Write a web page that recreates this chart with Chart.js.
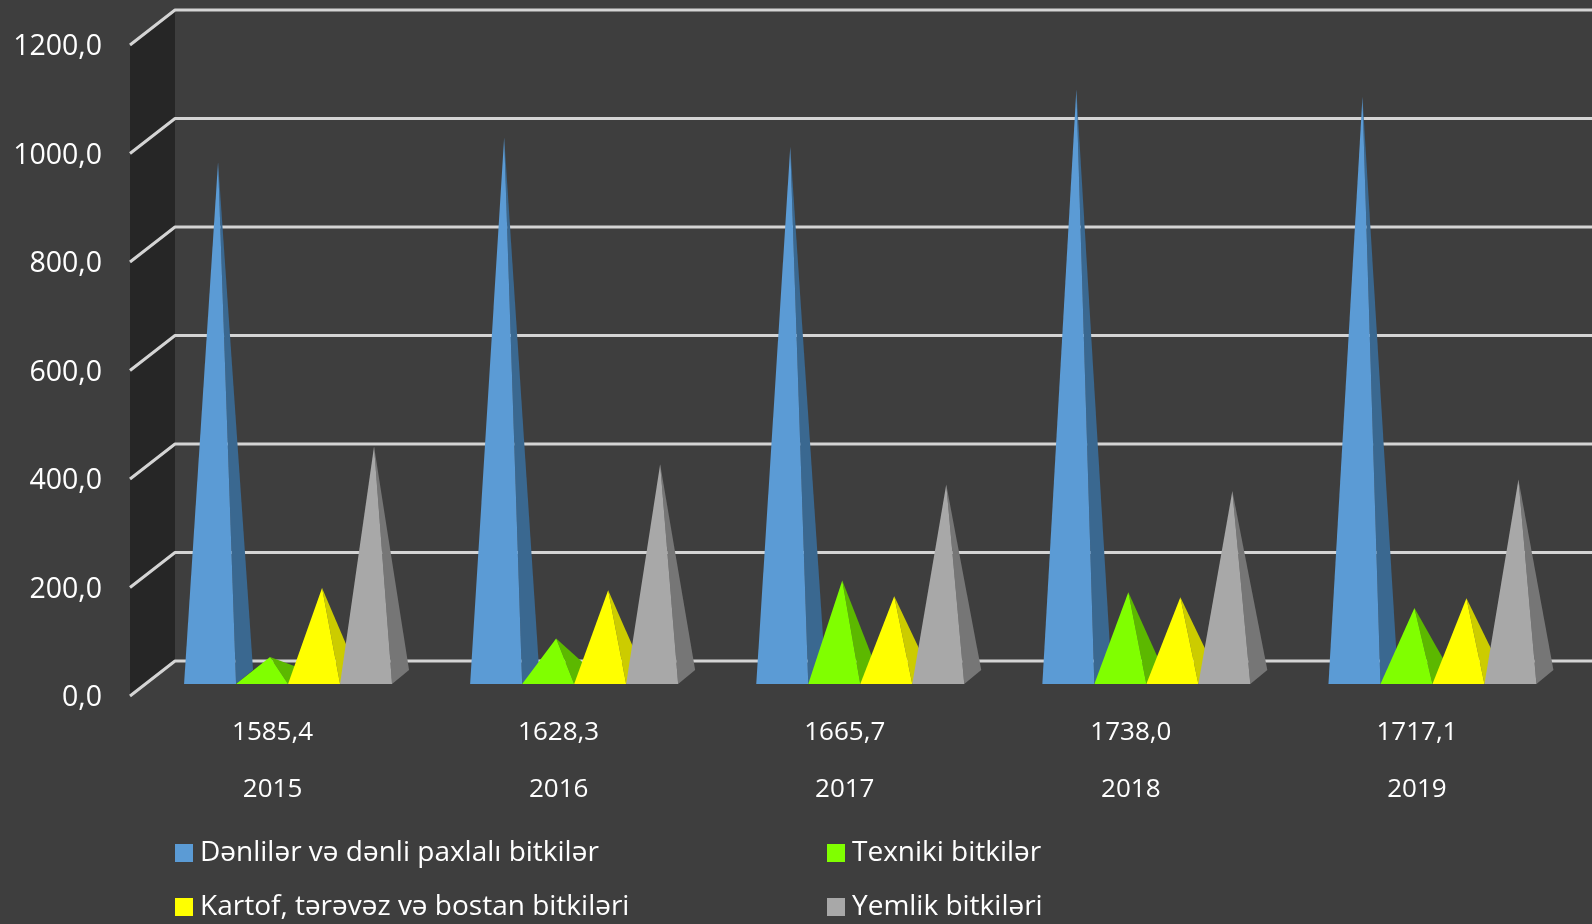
<!DOCTYPE html>
<html>
<head>
<meta charset="utf-8">
<style>html,body{margin:0;padding:0;background:#3e3e3e;overflow:hidden}canvas{display:block}</style>
<script src="https://cdn.jsdelivr.net/npm/chart.js@4/dist/chart.umd.min.js"></script>
</head>
<body>
<canvas id="c" width="1592" height="924"></canvas>
<script>
const years = ["2015","2016","2017","2018","2019"];
const totals = ["1585,4","1628,3","1665,7","1738,0","1717,1"];
const grain = [949,995,977,1083,1069];
const technical = [37,71,178,156,127];
const potato = [164,160,149,147,145];
const fodder = [425,392,355,343,364];
const seriesNames = ["Dənlilər və dənli paxlalı bitkilər","Texniki bitkilər","Kartof, tərəvəz və bostan bitkiləri","Yemlik bitkiləri"];
const frontColors = ["#5B9BD5","#80FF00","#FFFF00","#A8A8A8"];
const sideColors = ["#3A6890","#5CB800","#CCCC00","#767676"];
const FONT = "'Open Sans', sans-serif";

const pyramids = {
  id:"pyramids",
  beforeDatasetsDraw(chart){
    const {ctx,chartArea:a,scales:{y}} = chart;
    ctx.save();
    ctx.fillStyle="#262626";
    ctx.beginPath();
    ctx.moveTo(a.left,y.getPixelForValue(1200));
    ctx.lineTo(a.left+45,y.getPixelForValue(1200)-35);
    ctx.lineTo(a.left+45,y.getPixelForValue(0)-35);
    ctx.lineTo(a.left,y.getPixelForValue(0));
    ctx.closePath();ctx.fill();
    ctx.strokeStyle="#D4D4D4";ctx.lineWidth=3;ctx.lineJoin="round";
    y.ticks.forEach(t=>{
      const py=y.getPixelForValue(t.value);
      ctx.beginPath();ctx.moveTo(a.left,py);ctx.lineTo(a.left+45,py-35);ctx.lineTo(chart.width,py-35);ctx.stroke();
    });
    chart.data.datasets.forEach((ds,i)=>{
      chart.getDatasetMeta(i).data.forEach(bar=>{
        const p=bar.getProps(["x","y","base","width"],true);
        const l=p.x-p.width/2+15, r=p.x+p.width/2+15, fy=p.base-12;
        const ax=p.x+23, ay=p.y-19;
        ctx.fillStyle=sideColors[i];
        ctx.beginPath();ctx.moveTo(r,fy);ctx.lineTo(r+17,fy-14);ctx.lineTo(ax,ay);ctx.closePath();ctx.fill();
        ctx.fillStyle=frontColors[i];
        ctx.beginPath();ctx.moveTo(l,fy);ctx.lineTo(r,fy);ctx.lineTo(ax,ay);ctx.closePath();ctx.fill();
      });
    });
    ctx.restore();
  },
  beforeDatasetDraw(){return false;},
  afterDraw(chart){
    const ctx=chart.ctx;
    const spots=[[175,853],[827,853],[175,907],[827,907]];
    ctx.save();
    ctx.font="28px "+FONT;ctx.textBaseline="middle";ctx.textAlign="left";
    chart.data.datasets.forEach((ds,s)=>{
      const [x,yy]=spots[s];
      ctx.fillStyle=frontColors[s];ctx.fillRect(x,yy-9,18,18);
      ctx.fillStyle="#FFFFFF";ctx.fillText(ds.label,x+25,yy);
    });
    ctx.restore();
  }
};

new Chart(document.getElementById("c"),{
  type:"bar",
  data:{
    labels:years.map((yr,i)=>[totals[i],yr]),
    datasets:[grain,technical,potato,fodder].map((d,i)=>({label:seriesNames[i],data:d,backgroundColor:frontColors[i]}))
  },
  options:{
    responsive:false,animation:false,
    categoryPercentage:0.727,barPercentage:1,
    layout:{padding:{top:45,right:31.5,left:0,bottom:0}},
    plugins:{legend:{display:false},tooltip:{enabled:false}},
    scales:{
      x:{
        grid:{display:false},border:{display:false},
        afterFit(ax){ax.height=228;},
        ticks:{color:"#FFFFFF",padding:0,labelOffset:-0.5,maxRotation:0,autoSkip:false,font:{family:FONT,size:26,lineHeight:57/26}}
      },
      y:{
        min:0,max:1200,
        grid:{display:false},border:{display:false},
        afterFit(ax){ax.width=130;},
        ticks:{stepSize:200,color:"#FFFFFF",padding:20,labelOffset:2,font:{family:FONT,size:28.5},callback:v=>v.toFixed(1).replace(".",",")}
      }
    }
  },
  plugins:[pyramids]
});
</script>
</body>
</html>
